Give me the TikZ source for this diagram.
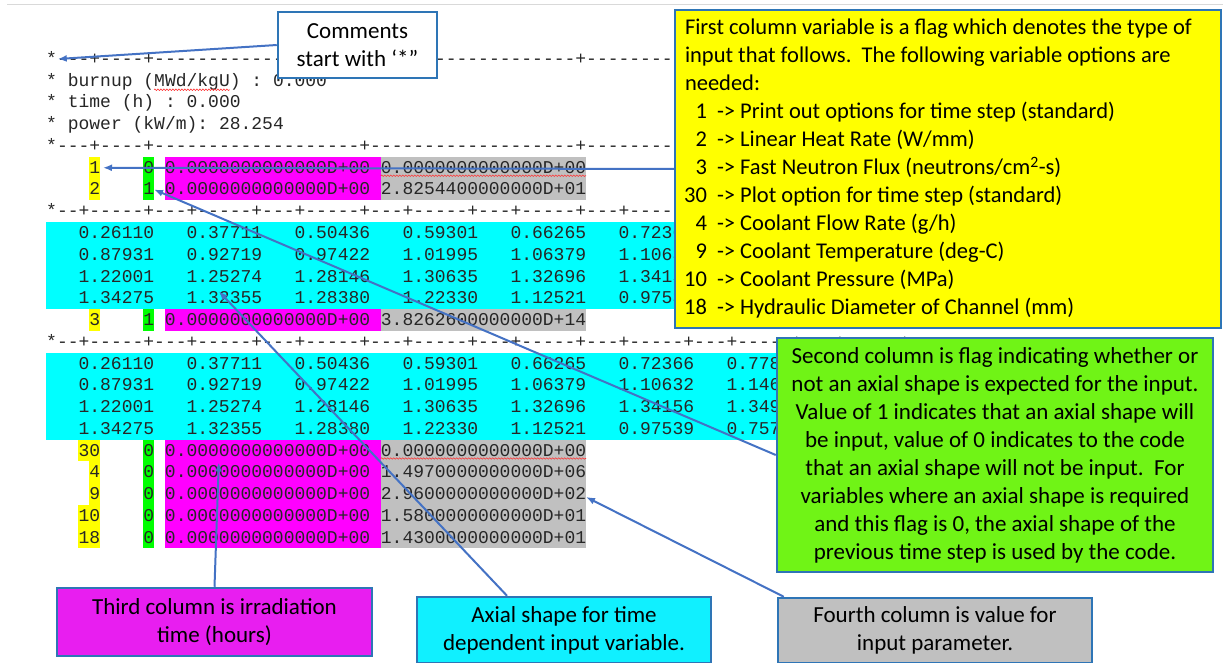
\documentclass[tikz,border=0pt]{standalone}
\usepackage{fontspec}
\setmainfont{Carlito}
\newfontfamily\listfont{Liberation Mono}[Ligatures=TeXOff]
\usetikzlibrary{arrows.meta,decorations.pathmorphing}

\definecolor{boxblue}{RGB}{46,117,182}
\definecolor{arrowblue}{RGB}{68,114,196}
\definecolor{hlyellow}{RGB}{255,255,0}
\definecolor{hlgreen}{RGB}{0,255,0}
\definecolor{hlmagenta}{RGB}{255,0,255}
\definecolor{hlgray}{RGB}{192,192,192}
\definecolor{hlcyan}{RGB}{0,255,255}
\definecolor{notegreen}{RGB}{112,244,22}
\definecolor{notemagenta}{RGB}{232,30,240}
\definecolor{notecyan}{RGB}{16,240,255}

% listing grid: column -> x, row -> y
\newcommand{\cx}[1]{46+10.8*(#1)}
\newcommand{\ry}[1]{59+21.75*(#1)}
% fortran style fields
\newcommand{\intf}[1]{\makebox[54pt][r]{#1}}
\newcommand{\realf}[1]{\makebox[216pt][r]{#1}}
\newcommand{\fld}[1]{\makebox[108pt][r]{#1}}
% option number in the first note
\newcommand{\opt}[1]{\makebox[22pt][r]{#1}\hspace{10pt}}
% highlight columns #2..#3 of row #4
\newcommand{\hl}[4]{\fill[#1] ({\cx{#2}},{\ry{#4}-10.9}) rectangle ({\cx{#3+1}},{\ry{#4}+10.9});}

\begin{document}
\begin{tikzpicture}[x=1pt,y=-1pt,
    listtext/.style={anchor=west,inner sep=0pt,text height=11pt,text depth=0pt,
      font=\listfont\fontsize{18}{21}\selectfont\frenchspacing,text=black!85},
    note/.style={draw=boxblue,line width=2.5pt,inner sep=8pt,align=center,
      font=\fontsize{23}{28}\selectfont},
    pointer/.style={draw=arrowblue,line width=2pt,-{Latex[length=9pt,width=7pt]}},
    squiggle/.style={draw=red!80,line width=0.6pt,decorate,
      decoration={snake,amplitude=0.8pt,segment length=3pt}}]
  \useasboundingbox (0,0) rectangle (1223,663);
  \draw[gray!30,line width=1pt] (7,5) -- (1223,5);

  % highlights
  \fill[hlcyan] ({\cx{0}},{\ry{8}-10.9}) rectangle (800,{\ry{11}+10.9});
  \fill[hlcyan] ({\cx{0}},{\ry{14}-10.9}) rectangle (800,{\ry{17}+10.9});
  \foreach \r in {5,6,12,18,19,20,21,22} {
    \hl{hlgreen}{9}{9}{\r}
    \hl{hlmagenta}{11}{30}{\r}
    \hl{hlgray}{31}{49}{\r}
  }
  \foreach \r/\c in {5/4,6/4,12/4,18/3,19/4,20/4,21/3,22/3} {
    \hl{hlyellow}{\c}{4}{\r}
  }

  % input listing
  \node[listtext] (sepa) at ({\cx{0}},{\ry{0}}) {*---+----+-------------------+-------------------+---------};
  \node[listtext] (burnup) at ({\cx{0}},{\ry{1}}) {* burnup (MWd/kgU) : 0.000};
  \node[listtext] (time) at ({\cx{0}},{\ry{2}}) {* time (h) : 0.000};
  \node[listtext] (power) at ({\cx{0}},{\ry{3}}) {* power (kW/m): 28.254};
  \node[listtext] (sepb) at ({\cx{0}},{\ry{4}}) {*---+----+-------------------+-------------------+---------};
  \node[listtext] (opt1) at ({\cx{0}},{\ry{5}}) {\intf{1}\intf{0}\realf{0.0000000000000D+00}\realf{0.0000000000000D+00}};
  \node[listtext] (opt2) at ({\cx{0}},{\ry{6}}) {\intf{2}\intf{1}\realf{0.0000000000000D+00}\realf{2.8254400000000D+01}};
  \node[listtext] (sepc) at ({\cx{0}},{\ry{7}}) {*--+-----+---+-----+---+-----+---+-----+---+-----+---+-----+---+-----+---+-----+};
  \foreach \a/\b/\c/\d/\e/\f/\g [count=\i from 0] in
      {0.26110/0.37711/0.50436/0.59301/0.66265/0.72366/0.778,
       0.87931/0.92719/0.97422/1.01995/1.06379/1.10632/1.146,
       1.22001/1.25274/1.28146/1.30635/1.32696/1.34156/1.349,
       1.34275/1.32355/1.28380/1.22330/1.12521/0.97539/0.757} {
    \node[listtext] (axa\i) at ({\cx{0}},{\ry{8+\i}}) {\fld{\a}\fld{\b}\fld{\c}\fld{\d}\fld{\e}\fld{\f}};
    \node[listtext] (axb\i) at ({\cx{0}},{\ry{14+\i}}) {\fld{\a}\fld{\b}\fld{\c}\fld{\d}\fld{\e}\fld{\f}\fld{\g\phantom{00}}};
  }
  \node[listtext] (opt3) at ({\cx{0}},{\ry{12}}) {\intf{3}\intf{1}\realf{0.0000000000000D+00}\realf{3.8262600000000D+14}};
  \node[listtext] (sepd) at ({\cx{0}},{\ry{13}}) {*--+-----+---+-----+---+-----+---+-----+---+-----+---+-----+---+-----+---+-----+};
  \foreach \n/\v [count=\i from 18] in {30/0.0000000000000D+00, 4/1.4970000000000D+06,
      9/2.9600000000000D+02, 10/1.5800000000000D+01, 18/1.4300000000000D+01} {
    \node[listtext] (opt\n) at ({\cx{0}},{\ry{\i}}) {\intf{\n}\intf{0}\realf{0.0000000000000D+00}\realf{\v}};
  }

  % spell check marks
  \draw[squiggle] ({\cx{10}},{\ry{1}+9}) -- ({\cx{17}},{\ry{1}+9});
  \draw[squiggle] ({\cx{31}},{\ry{5}+8}) -- ({\cx{50}},{\ry{5}+8});
  \draw[squiggle] ({\cx{31}},{\ry{18}+8}) -- ({\cx{50}},{\ry{18}+8});

  % notes
  \node[note,fill=white,minimum width=159pt,minimum height=66pt] (comments) at (357.5,45) {Comments\\start with ‘*”};
  \node[note,fill=hlyellow,minimum width=546pt,minimum height=318pt,align=flush left,
        inner xsep=10pt,text width=526pt,font=\fontsize{22.5}{28}\selectfont] (firstcol) at (948,169)
    {First column variable is a flag which denotes the type of\\
     input that follows.\ \ The following variable options are\\
     needed:\\
     \opt{1}-> Print out options for time step (standard)\\
     \opt{2}-> Linear Heat Rate (W/mm)\\
     \opt{3}-> Fast Neutron Flux (neutrons/cm\textsuperscript{2}-s)\\
     \opt{30}-> Plot option for time step (standard)\\
     \opt{4}-> Coolant Flow Rate (g/h)\\
     \opt{9}-> Coolant Temperature (deg-C)\\
     \opt{10}-> Coolant Pressure (MPa)\\
     \opt{18}-> Hydraulic Diameter of Channel (mm)};
  \node[note,fill=notegreen,minimum width=436pt,minimum height=234pt] (secondcol) at (995,455)
    {Second column is flag indicating whether or\\
     not an axial shape is expected for the input.\\
     Value of 1 indicates that an axial shape will\\
     be input, value of 0 indicates to the code\\
     that an axial shape will not be input.\ \ For\\
     variables where an axial shape is required\\
     and this flag is 0, the axial shape of the\\
     previous time step is used by the code.};
  \node[note,fill=notemagenta,minimum width=315pt,minimum height=68pt] (thirdcol) at (214.5,622) {Third column is irradiation\\time (hours)};
  \node[note,fill=notecyan,minimum width=294pt,minimum height=66pt] (axial) at (564,630) {Axial shape for time\\dependent input variable.};
  \node[note,fill=hlgray,minimum width=314pt,minimum height=65pt] (fourth) at (935,630.5) {Fourth column is value for\\input parameter.};

  % pointers
  \coordinate (star) at ({\cx{1}+1},{\ry{0}});
  \coordinate (flaga) at ({\cx{5}+3},{\ry{5}});
  \coordinate (flagb) at ({\cx{10}},{\ry{6}});
  \coordinate (shapeval) at ({\cx{16}},{\ry{11}-7});
  \coordinate (timeval) at ({\cx{16}},{\ry{18}+12});
  \coordinate (paramval) at ({\cx{50}},{\ry{20}+3});
  \draw[pointer] (comments.west) -- (star);
  \draw[pointer] (firstcol.west) -- (flaga);
  \draw[pointer] (secondcol.west) -- (flagb);
  \draw[pointer] (thirdcol.north) -- (timeval);
  \draw[pointer] ([xshift=-57pt]axial.north) -- (shapeval);
  \draw[pointer] ([xshift=7pt]fourth.north west) -- (paramval);
\end{tikzpicture}
\end{document}
